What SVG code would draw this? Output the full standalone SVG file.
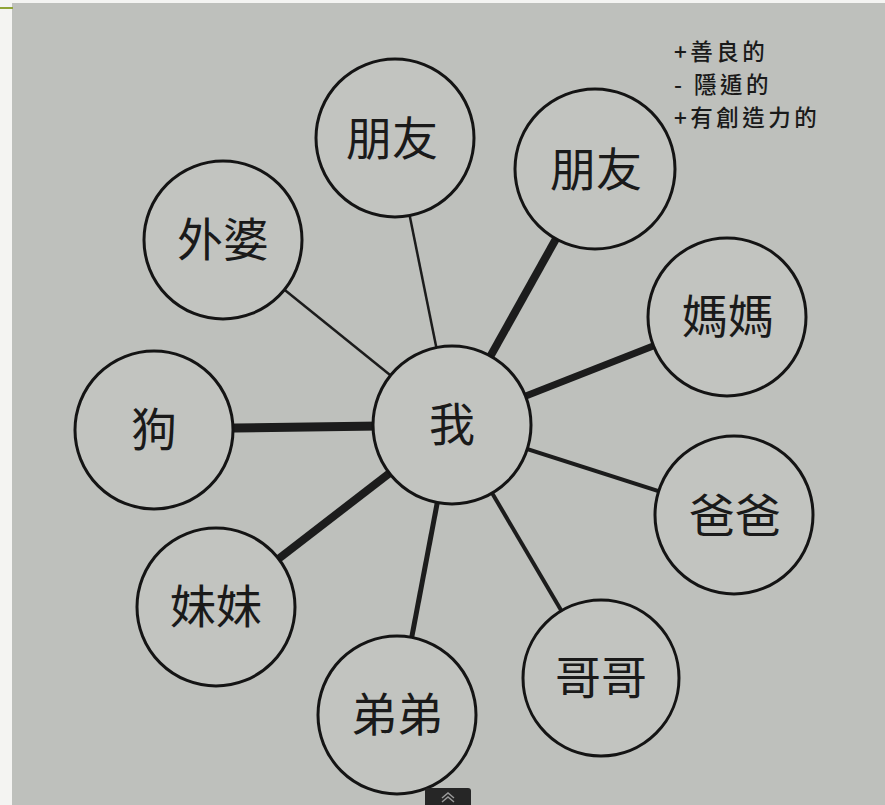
<svg xmlns="http://www.w3.org/2000/svg" width="885" height="805" viewBox="0 0 885 805">
<style>
.node circle{fill:#c2c4c0;stroke:#141414;stroke-width:3}
.node text{font-family:"Noto Sans CJK TC","Noto Sans CJK SC",sans-serif;font-size:46px;fill:#1a1a1a;text-anchor:middle}
.edge{stroke:#1c1c1c;stroke-linecap:butt}
.legend{font-family:"Noto Sans CJK TC","Noto Sans CJK SC",sans-serif;font-size:22.5px;font-weight:500;letter-spacing:3.5px;fill:#1a1a1a}
</style>
<rect x="0" y="0" width="885" height="805" fill="#f4f4f2"/>
<rect x="12" y="3" width="873" height="802" fill="#bec0bc"/>
<line x1="0" y1="8" x2="13" y2="8" stroke="#8fa436" stroke-width="2"/>
<g id="connectors">
<line class="edge" x1="452" y1="425" x2="394" y2="138" stroke-width="2.5"/>
<line class="edge" x1="452" y1="425" x2="595" y2="169" stroke-width="8"/>
<line class="edge" x1="452" y1="425" x2="223" y2="240" stroke-width="2.5"/>
<line class="edge" x1="452" y1="425" x2="727" y2="317" stroke-width="7"/>
<line class="edge" x1="452" y1="425" x2="154" y2="429" stroke-width="9"/>
<line class="edge" x1="452" y1="425" x2="733" y2="515" stroke-width="4"/>
<line class="edge" x1="452" y1="425" x2="216" y2="607" stroke-width="8"/>
<line class="edge" x1="452" y1="425" x2="601" y2="678" stroke-width="4"/>
<line class="edge" x1="452" y1="425" x2="397" y2="715" stroke-width="5"/>
</g>
<g id="n-me" class="node"><circle cx="452" cy="425" r="79"/><text x="452" y="441">我</text></g>
<g id="n-friend1" class="node"><circle cx="395" cy="138" r="79"/><text x="392" y="155">朋友</text></g>
<g id="n-friend2" class="node"><circle cx="595" cy="169" r="80"/><text x="596" y="186">朋友</text></g>
<g id="n-grandma" class="node"><circle cx="223" cy="240" r="79"/><text x="223" y="256">外婆</text></g>
<g id="n-mom" class="node"><circle cx="727" cy="317" r="79"/><text x="728" y="333">媽媽</text></g>
<g id="n-dog" class="node"><circle cx="154" cy="430" r="79"/><text x="154" y="446">狗</text></g>
<g id="n-dad" class="node"><circle cx="734" cy="515" r="79"/><text x="735" y="532">爸爸</text></g>
<g id="n-sister" class="node"><circle cx="216" cy="607" r="79"/><text x="216" y="623">妹妹</text></g>
<g id="n-brother" class="node"><circle cx="601" cy="678" r="78"/><text x="601" y="694">哥哥</text></g>
<g id="n-youngbro" class="node"><circle cx="397" cy="715" r="79"/><text x="397" y="731">弟弟</text></g>
<g id="legend">
<text class="legend" x="674" y="60">+善良的</text>
<text class="legend" x="674" y="93">- 隱遁的</text>
<text class="legend" x="674" y="126">+有創造力的</text>
</g>
<g id="ui-button">
<rect x="425" y="788" width="46" height="22" rx="3" fill="#262626"/>
<polyline points="442,798 448,793 454,798" fill="none" stroke="#9a9a9a" stroke-width="1.5"/>
<polyline points="442,802 448,797 454,802" fill="none" stroke="#9a9a9a" stroke-width="1.5"/>
</g>
</svg>
